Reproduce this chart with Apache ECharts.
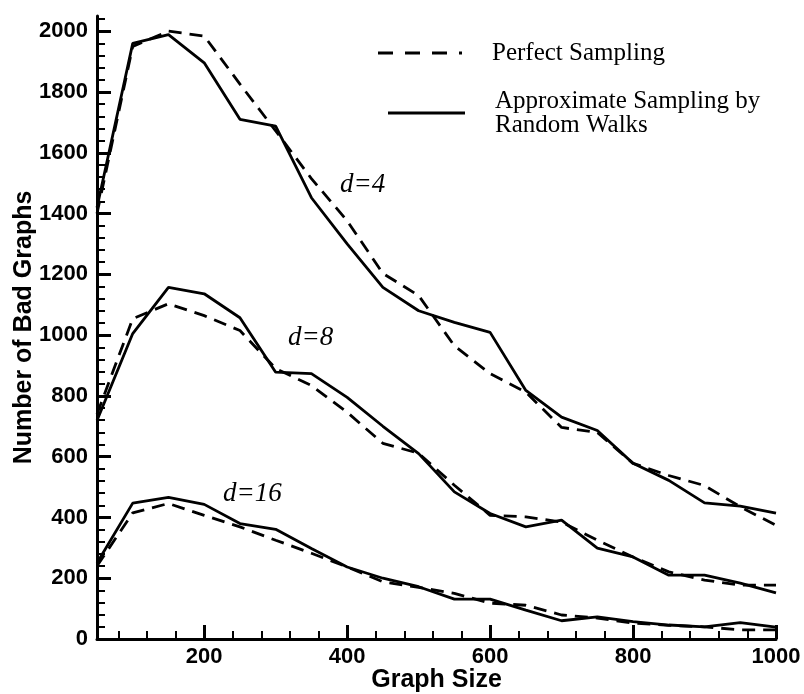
<!DOCTYPE html>
<html>
<head>
<meta charset="utf-8">
<script src="https://cdn.jsdelivr.net/npm/echarts@6/dist/echarts.min.js"></script>
<style>
html,body{margin:0;padding:0;background:#fff}
#chart{width:804px;height:694px}
</style>
</head>
<body>
<div id="chart"></div>
<script>
// graph sizes sampled every 50
var graphSize = [50,100,150,200,250,300,350,400,450,500,550,600,650,700,750,800,850,900,950,1000];

// d=4
var perfect4 = [1400,1950,2000,1984,1826,1672,1515,1376,1203,1130,965,873,812,696,680,578,538,505,435,374];
var walk4    = [1420,1960,1989,1896,1710,1688,1452,1300,1157,1080,1042,1009,818,730,686,578,522,448,437,414];
// d=8
var perfect8 = [740,1054,1103,1064,1015,890,834,746,644,611,506,407,402,385,325,270,221,194,177,177];
var walk8    = [719,1005,1157,1136,1057,878,873,795,700,610,484,413,369,391,299,270,210,210,184,152];
// d=16
var perfect16 = [240,415,446,407,369,325,282,237,188,170,150,118,111,79,69,52,45,40,30,30];
var walk16    = [250,447,466,443,380,361,298,237,200,172,131,131,95,60,73,57,46,40,54,39];

var xTickLabels = [200,400,600,800,1000];
var yTickLabels = [0,200,400,600,800,1000,1200,1400,1600,1800,2000];

function pairs(vals){
    var out = [];
    for (var i=0; i<graphSize.length; i++) out.push([graphSize[i], vals[i]]);
    return out;
}

// minor ticks every 40, skipping the labelled ones
var xMinor = [], yMinor = [];
for (var v=40; v<1000; v+=40) if (v>50 && v%200!==0) xMinor.push(v);
for (var v=40; v<=2040; v+=40) if (v%200!==0) yMinor.push(v);

var dash = [13, 8];
function line(name, vals, dashed){
    return {
        name: name,
        type: 'line',
        data: pairs(vals),
        showSymbol: false,
        silent: true,
        lineStyle: {color: '#000', width: 2.8, type: dashed ? dash : 'solid'}
    };
}

var plain = function (v) { return String(v); };
var tickFont = {fontFamily: 'Liberation Sans', fontWeight: 'bold', fontSize: 22, color: '#000'};
var nameFont = {fontFamily: 'Liberation Sans', fontWeight: 'bold', fontSize: 25, color: '#000'};
var axisLine = {show: true, onZero: false, lineStyle: {color: '#000', width: 3}};

var myChart = echarts.init(document.getElementById('chart'));

var option = {
    animation: false,
    backgroundColor: '#fff',
    grid: {left: 97, right: 28, top: 16, bottom: 55, containLabel: false, outerBoundsMode: 'none'},
    xAxis: [{
        type: 'value', min: 50, max: 1000,
        position: 'bottom',
        name: 'Graph Size', nameLocation: 'middle', nameGap: 29, nameMoveOverlap: false, nameTextStyle: nameFont,
        axisLine: axisLine,
        axisTick: {show: true, inside: true, length: 14, customValues: xTickLabels, lineStyle: {color: '#000', width: 3}},
        axisLabel: Object.assign({customValues: xTickLabels, margin: 7, formatter: plain}, tickFont),
        splitLine: {show: false}
    }, {
        type: 'value', min: 50, max: 1000,
        position: 'bottom',
        axisLine: {show: false},
        axisTick: {show: true, inside: true, length: 8, customValues: xMinor, lineStyle: {color: '#000', width: 2}},
        axisLabel: {show: false},
        splitLine: {show: false}
    }],
    yAxis: [{
        type: 'value', min: 0, max: 2050,
        position: 'left',
        name: 'Number of Bad Graphs', nameLocation: 'middle', nameGap: 60, nameMoveOverlap: false, nameTextStyle: nameFont,
        axisLine: axisLine,
        axisTick: {show: true, inside: true, length: 14, customValues: yTickLabels, lineStyle: {color: '#000', width: 3}},
        axisLabel: Object.assign({customValues: yTickLabels, margin: 9, formatter: plain}, tickFont),
        splitLine: {show: false}
    }, {
        type: 'value', min: 0, max: 2050,
        position: 'left',
        axisLine: {show: false},
        axisTick: {show: true, inside: true, length: 8, customValues: yMinor, lineStyle: {color: '#000', width: 2}},
        axisLabel: {show: false},
        splitLine: {show: false}
    }],
    series: [
        line('Perfect Sampling d=4', perfect4, true),
        line('Random Walks d=4', walk4, false),
        line('Perfect Sampling d=8', perfect8, true),
        line('Random Walks d=8', walk8, false),
        line('Perfect Sampling d=16', perfect16, true),
        line('Random Walks d=16', walk16, false)
    ],
    graphic: [
        // legend
        {type: 'line', shape: {x1: 378, y1: 53, x2: 462, y2: 53}, style: {stroke: '#000', lineWidth: 3, lineDash: [15, 12]}},
        {type: 'line', shape: {x1: 388, y1: 113, x2: 465, y2: 113}, style: {stroke: '#000', lineWidth: 3}},
        {type: 'text', x: 492, y: 53, style: {text: 'Perfect Sampling', font: '25px "Liberation Serif"', fill: '#000', verticalAlign: 'middle'}},
        {type: 'text', x: 495, y: 89, style: {text: 'Approximate Sampling by\nRandom Walks', font: '25px "Liberation Serif"', lineHeight: 24, fill: '#000', verticalAlign: 'top'}},
        // curve labels
        {type: 'text', x: 340, y: 185, style: {text: 'd=4', font: 'italic 27px "Liberation Serif"', fill: '#000', verticalAlign: 'middle'}},
        {type: 'text', x: 288, y: 338, style: {text: 'd=8', font: 'italic 27px "Liberation Serif"', fill: '#000', verticalAlign: 'middle'}},
        {type: 'text', x: 223, y: 494, style: {text: 'd=16', font: 'italic 27px "Liberation Serif"', fill: '#000', verticalAlign: 'middle'}}
    ]
};

myChart.setOption(option);
</script>
</body>
</html>
